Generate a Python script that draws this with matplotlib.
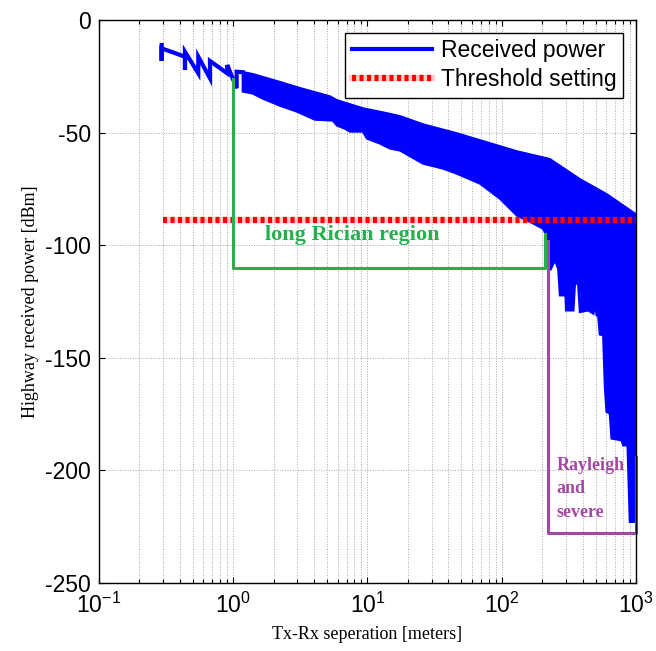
import matplotlib
matplotlib.use("Agg")
import matplotlib.pyplot as plt
from matplotlib.lines import Line2D
import numpy as np

plt.rcParams["font.family"] = "Liberation Sans"
plt.rcParams["axes.unicode_minus"] = False

# sparse samples near the transmitter (distinct nulls)
near_x = [0.293, 0.293, 0.293, 0.437, 0.437, 0.437, 0.549, 0.549,
          0.671, 0.671, 0.903, 0.903, 1.06, 1.06, 1.18]
near_y = [-11.1, -18.2, -12.6, -16.3, -22.2, -14.1, -23.7, -16.3,
          -25.9, -18.2, -23.7, -20.0, -30.3, -23.0, -23.2]

# dense fading band: upper peaks
upper_x = [1.18, 1.40, 2.23, 3.14, 5.26, 5.93, 7.41, 9.26, 11.0, 14.0,
           17.5, 25.9, 46.4, 81.7, 130, 217, 229, 383, 608, 1000]
upper_y = [-23.2, -24.1, -27.6, -30.3, -34.0, -35.7, -37.5, -39.3, -40.2, -41.5,
           -42.8, -46.4, -50.4, -54.8, -58.4, -61.5, -61.9, -70.8, -77.5, -86.4]

# dense fading band: lower nulls
lower_x = [1.18, 1.40, 1.67, 2.23, 2.98, 4.06, 5.53, 5.93, 6.80, 7.41,
           9.26, 9.92, 12.4, 14.7, 17.5, 25.9, 36.5, 46.4, 68.9, 97.1,
           130, 162, 203, 217, 229, 249, 264, 272, 290, 296,
           302, 341, 351, 372, 383, 441, 481, 495, 510, 524,
           539, 571, 588, 605, 640, 659, 783, 805, 853, 862,
           876, 902, 1000]
lower_y = [-31.7, -32.6, -34.9, -38.0, -40.6, -44.2, -44.6, -46.8, -48.2, -49.5,
           -49.5, -52.6, -54.8, -57.0, -57.9, -63.7, -65.9, -68.2, -72.6, -79.3,
           -86.8, -89.5, -92.6, -95.7, -111.1, -106.6, -110.4, -122.2, -122.2, -113.5,
           -128.9, -128.9, -115.9, -117.7, -129.6, -128.9, -130.3, -124.9, -131.1, -131.1,
           -139.6, -139.9, -162.9, -174.0, -174.7, -185.8, -186.6, -188.8, -188.8, -182.8,
           -197.7, -222.8, -222.8]

thresh_x = [0.3, 1000]
thresh_y = [-89, -89]

# annotation boxes
rician_x = [1.0, 1.0, 210, 210]
rician_y = [-26, -110, -110, -95]
rayleigh_x = [222, 222, 1000, 1000]
rayleigh_y = [-98, -228, -228, -194]

fig = plt.figure(figsize=(6.56, 6.51), dpi=100)
ax = fig.add_axes([0.1509, 0.1045, 0.8186, 0.8648])

blue = (0, 0, 1)
ax.plot(near_x, near_y, color=blue, lw=3, solid_joinstyle="miter")
poly_x = np.concatenate([upper_x, lower_x[::-1]])
poly_y = np.concatenate([upper_y, lower_y[::-1]])
ax.fill(poly_x, poly_y, facecolor=blue, edgecolor=blue, lw=1.8)

# threshold (dotted, slightly smeared)
ax.plot(thresh_x, thresh_y, color="red", lw=4.5, alpha=0.2, solid_capstyle="butt")
ax.plot(thresh_x, thresh_y, color="red", lw=4.5, dashes=(0.65, 0.55),
        dash_capstyle="butt")

green = "#22b14c"
purple = "#a349a4"
ax.plot(rician_x, rician_y, color=green, lw=2.2, clip_on=False)
ax.plot(rayleigh_x, rayleigh_y, color=purple, lw=2.2, clip_on=False)

ax.text(7.7, -95.5, "long Rician region", color=green, fontsize=16,
        fontweight="bold", family="Liberation Serif", ha="center", va="center")
ax.text(256, -194.0, "Rayleigh\nand\nsevere", color=purple, fontsize=13,
        fontweight="bold", family="Liberation Serif", ha="left", va="top",
        linespacing=1.5)

ax.set_xscale("log")
ax.set_xlim(0.1, 1000)
ax.set_ylim(-250, 0)
ax.set_yticks(np.arange(-250, 1, 50))

ax.grid(True, which="both", axis="x", ls=":", color="#a8a8a8", lw=0.7)
ax.grid(True, which="major", axis="y", ls=":", color="#a8a8a8", lw=0.7)
ax.set_axisbelow(True)

ax.tick_params(which="both", direction="in", top=True, right=True,
               labelsize=16.5, width=0.8)
ax.tick_params(which="major", length=4)
ax.tick_params(which="minor", length=3)
ax.tick_params(axis="x", pad=7)
ax.tick_params(axis="y", pad=6)
for sp in ax.spines.values():
    sp.set_linewidth(1.0)
    sp.set_color("black")

ax.set_xlabel("Tx-Rx seperation [meters]", family="Liberation Serif", fontsize=13,
              labelpad=6)
ax.set_ylabel("Highway received power [dBm]", family="Liberation Serif", fontsize=13)

handles = [
    Line2D([], [], color=blue, lw=3),
    (Line2D([], [], color="red", lw=4.5, alpha=0.2),
     Line2D([], [], color="red", lw=4.5, dashes=(0.65, 0.55), dash_capstyle="butt")),
]
leg = ax.legend(handles, ["Received power", "Threshold setting"], loc="upper right",
                fontsize=16.5, fancybox=False, framealpha=1, edgecolor="black",
                handlelength=3.5, handletextpad=0.4, borderaxespad=0.55,
                borderpad=0.3, labelspacing=0.25)
leg.get_frame().set_linewidth(1.0)

fig.savefig("out.png", dpi=100)
